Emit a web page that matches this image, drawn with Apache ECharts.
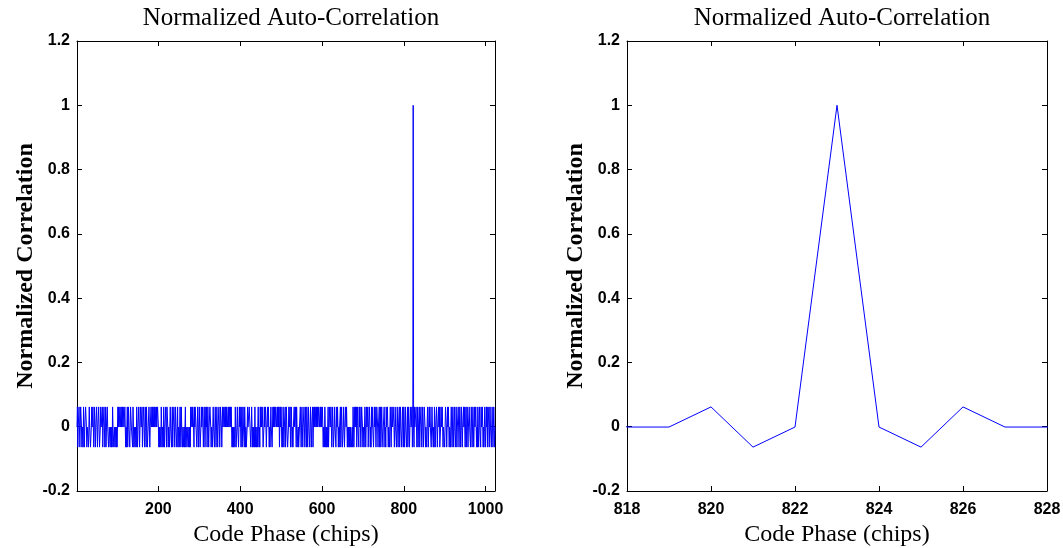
<!DOCTYPE html>
<html>
<head>
<meta charset="utf-8">
<script src="https://cdn.jsdelivr.net/npm/echarts@6/dist/echarts.min.js"></script>
<style>
html,body{margin:0;padding:0;background:#fff;}
#chart{width:1063px;height:548px;}
</style>
</head>
<body>
<div id="chart"></div>
<script>
// Correlation levels (p = high sidelobe, m = low sidelobe, 0 = near zero, P = peak)
const levels = { p: 0.0616, m: -0.0635, '0': -0.001, P: 1 };

// Chips 1..1023, one code per chip
const corrCodes = [
  "0pm00p0m0p p0m00mp0m0 0pp0m000m0 p00mm0p00p 0m0p0m00pp m00p0mm0p0 00pm00p0m0 pm00p00mm0",
  "0m00m0mp00 mm0m00m0m0 p0p00pp0p0 0p0pp00p0m 0m0pm0p00m 0pp000mp0m m0m00mp0m0 0p0m0pp00p",
  "m00p0m0p0m p0mm00p0m0 0p00p0p00p 0pp0p00pp0 m0m00mp0m0 0mp0m00p0m pp0m00m0p0 0m0pm00p0m",
  "0p00m0pm00 m0p0mp00m0 0m0m0pm00m m00m0m0mp0 0p0pp0mp0p p00m0p0m0p 0mm0p00p0m 0p0m0p0pm0",
  "p0m00pp0m0 0m0p00m0pp m0p0m00p0m 0pp0m0p00p 00p0p0pp00 p00p0p0p0m 0m0m00mp0m m0p00m0p0p",
  "0m0pm0p00m p0m0mm0p00 0pp00m0p0m 0m00mpm00m 0m0p0m0mp0 p00p0mm0p0 0p0m00p0pp m0m0p00m0p",
  "0p0p00pp00 p0p0pm0p0p 0m0mp0m00p m0p00mm0p0 0pm0p0m0m0 0p00p0mp00 m0mm00p0m0 p0m00p0m0p",
  "0mp0m0p00m 0p0m00pm0p 0p00p0p0p0 0pp00p0p00 p0m00mp0m0 m0m0pm00p0 0p0m0p0mm0 p00m0p0p0m",
  "0m00pm0p0m m0p0m00p0p 0m0m00m0m0 0mm0mp0m0p 0p0pm0p00m p0p0m0pp0m 00m0p0m0p0 0pm00p0m0m",
  "p0p00m0p0p 0m0pp0m00p m0pm0p00m0 0p0m0mp00p 0m00m0p0m0 p00pp0m0p0 0m0p0m00pm 0p00m0p0mp",
  "0m0p00m0pm 0p0m00p",
  "00pm0P0mp00",
  "0p0m0pm00p m00p0m0p0m 0pp0m00m0p 0m0p0p00m0 p00m0mp0m0 0p0m00p0pm m0p00p0m00 0m0pp0m0p0",
  "p0m00m0p0m 0p0m0p00mp 0m00p0m0p0 m0p0m00p0p 0m0pm0p0m0 0p00m0p0mm p0m0p00p0m 0mp0m0p00m",
  "p00p0m0m0p 0m0p0pm00p m0p00m0p0m 0p0m0"
];

const corr = corrCodes.join('').replace(/\s+/g, '').split('').map(c => levels[c]);
const codePhase = corr.map((_, i) => i + 1);
const seriesData = codePhase.map((x, i) => [x, corr[i]]);

const leftXTicks = [200, 400, 600, 800, 1000];
const yTicksMin = -0.2, yTicksMax = 1.2, yTickStep = 0.2;
const rightXRange = [818, 828];
const rightXStep = 2;

const titleText = 'Normalized Auto-Correlation';
const xName = 'Code Phase (chips)';
const yName = 'Normalized Correlation';

const labelStyle = { color: '#000', fontFamily: 'Liberation Sans', fontWeight: 'bold', fontSize: 16 };
const lineStyleAxis = { color: '#000', width: 1 };
const fmtY = v => String(parseFloat(Number(v).toFixed(1)));
const fmtX = v => String(Math.round(v));

function yAxes(gridIndex) {
  return [
    {
      gridIndex, type: 'value', min: yTicksMin, max: yTicksMax, interval: yTickStep,
      position: 'left',
      name: yName, nameLocation: 'middle', nameGap: 39, nameRotate: 90,
      nameTextStyle: { color: '#000', fontFamily: 'Liberation Serif', fontSize: 24, fontWeight: 'bold' },
      axisLine: { show: true, onZero: false, lineStyle: lineStyleAxis },
      axisTick: { show: true, inside: true, length: 5, lineStyle: lineStyleAxis },
      axisLabel: Object.assign({ margin: 7, formatter: fmtY }, labelStyle),
      splitLine: { show: false }
    },
    {
      gridIndex, type: 'value', min: yTicksMin, max: yTicksMax, interval: yTickStep,
      position: 'right',
      axisLine: { show: true, onZero: false, lineStyle: lineStyleAxis },
      axisTick: { show: true, inside: true, length: 5, lineStyle: lineStyleAxis },
      axisLabel: { show: false },
      splitLine: { show: false }
    }
  ];
}

const option = {
  animation: false,
  backgroundColor: '#fff',
  title: [
    { text: titleText, left: 286, top: 1, textAlign: 'center',
      textStyle: { color: '#000', fontFamily: 'Liberation Serif', fontWeight: 'normal', fontSize: 25 } },
    { text: titleText, left: 837, top: 1, textAlign: 'center',
      textStyle: { color: '#000', fontFamily: 'Liberation Serif', fontWeight: 'normal', fontSize: 25 } }
  ],
  grid: [
    { left: 77, top: 41, width: 418, height: 450, outerBoundsMode: 'none', containLabel: false },
    { left: 627, top: 41, width: 420, height: 450, outerBoundsMode: 'none', containLabel: false }
  ],
  xAxis: [
    {
      gridIndex: 0, type: 'value', min: 1, max: 1023, position: 'bottom',
      name: xName, nameLocation: 'middle', nameGap: 32,
      nameTextStyle: { color: '#000', fontFamily: 'Liberation Serif', fontSize: 24 },
      axisLine: { show: true, onZero: false, lineStyle: lineStyleAxis },
      axisTick: { show: true, inside: true, length: 5, customValues: leftXTicks, lineStyle: lineStyleAxis },
      axisLabel: Object.assign({ margin: 11, customValues: leftXTicks, formatter: fmtX }, labelStyle),
      splitLine: { show: false }
    },
    {
      gridIndex: 0, type: 'value', min: 1, max: 1023, position: 'top',
      axisLine: { show: true, onZero: false, lineStyle: lineStyleAxis },
      axisTick: { show: true, inside: true, length: 5, customValues: leftXTicks, lineStyle: lineStyleAxis },
      axisLabel: { show: false },
      splitLine: { show: false }
    },
    {
      gridIndex: 1, type: 'value', min: rightXRange[0], max: rightXRange[1], interval: rightXStep, position: 'bottom',
      name: xName, nameLocation: 'middle', nameGap: 32,
      nameTextStyle: { color: '#000', fontFamily: 'Liberation Serif', fontSize: 24 },
      axisLine: { show: true, onZero: false, lineStyle: lineStyleAxis },
      axisTick: { show: true, inside: true, length: 5, lineStyle: lineStyleAxis },
      axisLabel: Object.assign({ margin: 11, formatter: fmtX }, labelStyle),
      splitLine: { show: false }
    },
    {
      gridIndex: 1, type: 'value', min: rightXRange[0], max: rightXRange[1], interval: rightXStep, position: 'top',
      axisLine: { show: true, onZero: false, lineStyle: lineStyleAxis },
      axisTick: { show: true, inside: true, length: 5, lineStyle: lineStyleAxis },
      axisLabel: { show: false },
      splitLine: { show: false }
    }
  ],
  yAxis: yAxes(0).concat(yAxes(1)),
  series: [
    {
      type: 'line', xAxisIndex: 0, yAxisIndex: 0, data: seriesData,
      symbol: 'none', lineStyle: { color: '#0000ff', width: 1 }, silent: true
    },
    {
      type: 'line', xAxisIndex: 2, yAxisIndex: 2, data: seriesData,
      symbol: 'none', lineStyle: { color: '#0000ff', width: 1 }, silent: true, clip: true
    }
  ]
};

const chart = echarts.init(document.getElementById('chart'), null, { renderer: 'canvas' });
chart.setOption(option);
</script>
</body>
</html>
